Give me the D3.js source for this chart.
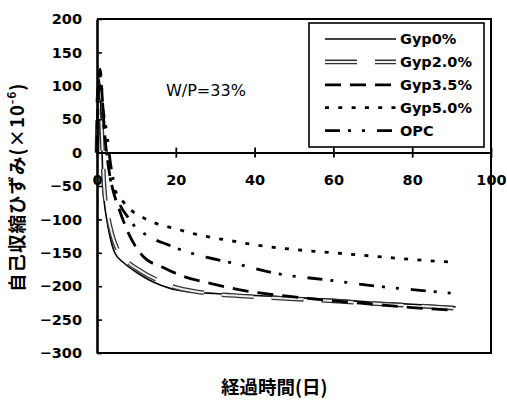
<!DOCTYPE html>
<html>
<head>
<meta charset="utf-8">
<script src="https://cdn.jsdelivr.net/npm/d3@7"></script>
<style>
  html, body { margin: 0; padding: 0; background: #fff; }
  svg { display: block; }
  .num { font-family: "DejaVu Sans", sans-serif; font-weight: bold; font-size: 14.5px; fill: #000; }
  .jp { font-family: "Noto Sans CJK JP", sans-serif; font-weight: bold; font-size: 18.5px; fill: #000; }
</style>
</head>
<body>
<svg id="chart" width="507" height="401"></svg>
<script>
// Autogenous shrinkage (×10^-6) against elapsed days, per gypsum dosage
const seriesNames = ["Gyp0%", "Gyp2.0%", "Gyp3.5%", "Gyp5.0%", "OPC"];

const daysGyp0 = [0, 0.3, 0.6, 1.0, 1.6, 2.5, 3.3, 4.6, 7, 10.5, 14, 19, 25, 30, 35, 40, 50, 60, 70, 80, 91];
const strainGyp0 = [0, 95, 110, 60, -56, -101, -126, -151, -166, -181, -193, -204, -209, -211, -213, -214, -217, -220, -224, -227, -231];

const daysGyp20 = [0, 0.3, 0.6, 1.1, 1.8, 2.8, 3.8, 5.2, 7.5, 11, 15, 20, 25, 30, 35, 40, 50, 60, 70, 80, 91];
const strainGyp20 = [0, 85, 100, 50, -50, -95, -122, -145, -162, -177, -190, -202, -208, -212, -214, -216, -219, -222, -226, -229, -233];

const daysGyp35 = [0, 0.4, 0.8, 1.3, 2, 3, 4, 5.4, 8, 11.8, 16.4, 22.3, 29, 35, 40, 45, 50, 60, 70, 80, 91];
const strainGyp35 = [0, 105, 125, 85, 25, -25, -55, -81, -121, -156, -171, -186, -196, -204, -209, -213, -216, -222, -227, -232, -236];

const daysGyp50 = [0, 0.4, 0.9, 1.5, 2.2, 3, 3.7, 5, 6.3, 8, 11.3, 15, 20, 25, 30, 35, 40, 50, 60, 70, 80, 90];
const strainGyp50 = [0, 90, 100, 55, 12, -25, -48, -62, -71, -83, -96, -106, -114, -122, -128, -133, -138, -145, -150, -155, -160, -164];

const daysOPC = [0, 0.4, 0.9, 1.5, 2.5, 3.3, 5, 8, 14, 18, 21.5, 28, 35, 45.6, 59, 72.7, 80, 91];
const strainOPC = [0, 95, 115, 68, 29, -11, -63, -98, -128, -138, -146, -157, -166, -181, -191, -201, -205, -211];

const xTicks = [0, 20, 40, 60, 80, 100];
const yTicks = [200, 150, 100, 50, 0, -50, -100, -150, -200, -250, -300];

const svg = d3.select("#chart");
const plotLeft = 97, plotRight = 491, plotTop = 19, plotBottom = 353;

const x = d3.scaleLinear().domain([0, 100]).range([plotLeft, plotRight]);
const y = d3.scaleLinear().domain([-300, 200]).range([plotBottom, plotTop]);

// Series geometry and stroke styles
const series = [
  { name: seriesNames[0], days: daysGyp0, vals: strainGyp0, styles: [{ stroke: "#000", width: 1.6, dash: null }] },
  { name: seriesNames[1], days: daysGyp20, vals: strainGyp20, styles: [
      { stroke: "#333", width: 4.6, dash: "32,18" },
      { stroke: "#eeeeee", width: 2.0, dash: "32,18" }] },
  { name: seriesNames[2], days: daysGyp35, vals: strainGyp35, styles: [{ stroke: "#000", width: 2.8, dash: "16,9" }] },
  { name: seriesNames[3], days: daysGyp50, vals: strainGyp50, styles: [{ stroke: "#000", width: 2.8, dash: "4,9.3" }] },
  { name: seriesNames[4], days: daysOPC, vals: strainOPC, styles: [{ stroke: "#000", width: 2.8, dash: "15,8,3,11,3,12" }] }
];

const line = d3.line()
  .x(d => x(d[0]))
  .y(d => y(d[1]))
  .curve(d3.curveMonotoneX);

const plot = svg.append("g");
series.forEach(s => {
  const pts = s.days.map((d, i) => [d, s.vals[i]]);
  s.styles.forEach(st => {
    plot.append("path")
      .attr("d", line(pts))
      .attr("fill", "none")
      .attr("stroke", st.stroke)
      .attr("stroke-width", st.width)
      .attr("stroke-dasharray", st.dash)
      .attr("stroke-linejoin", "round");
  });
});

// Frame: top, right and bottom borders
svg.append("path")
  .attr("d", `M${plotLeft},${plotTop}H${plotRight}V${plotBottom}H${plotLeft}`)
  .attr("fill", "none")
  .attr("stroke", "#000")
  .attr("stroke-width", 2);

// Y axis with inward ticks
const yAxis = d3.axisLeft(y).tickValues(yTicks).tickSizeInner(-5).tickSizeOuter(0).tickPadding(15);
const yg = svg.append("g").attr("transform", `translate(${plotLeft},0)`).call(yAxis);
yg.select(".domain").attr("stroke-width", 2.6);
yg.selectAll(".tick line").attr("stroke-width", 1.6);
yg.selectAll("text").attr("class", "num").attr("font-family", null).attr("font-size", null);

// X axis along zero strain, ticks crossing the line
const xAxis = d3.axisBottom(x).tickValues(xTicks).tickSizeInner(4).tickSizeOuter(0).tickPadding(18);
const xg = svg.append("g").attr("transform", `translate(0,${y(0)})`).call(xAxis);
xg.select(".domain").attr("stroke-width", 2);
xg.selectAll(".tick line").attr("y1", -5).attr("y2", 5).attr("stroke-width", 1.8);
xg.selectAll("text").attr("class", "num").attr("font-family", null).attr("font-size", null);

// Mix annotation
svg.append("text")
  .attr("x", 166).attr("y", 96)
  .attr("font-family", "DejaVu Sans, sans-serif")
  .attr("font-size", 16)
  .text("W/P=33%");

// Legend
const lg = svg.append("g");
lg.append("rect")
  .attr("x", 309).attr("y", 23).attr("width", 175).attr("height", 124)
  .attr("fill", "#fff").attr("stroke", "#000").attr("stroke-width", 1.6);
series.forEach((s, i) => {
  const cy = 39 + i * 22.9;
  s.styles.forEach(st => {
    lg.append("line")
      .attr("x1", 325).attr("x2", 396).attr("y1", cy).attr("y2", cy)
      .attr("stroke", st.stroke)
      .attr("stroke-width", st.width)
      .attr("stroke-dasharray", st.dash);
  });
  lg.append("text")
    .attr("class", "num")
    .attr("x", 400).attr("y", cy).attr("dy", "0.36em")
    .text(s.name);
});

// Axis titles
svg.append("text")
  .attr("class", "jp")
  .attr("x", 221).attr("y", 394)
  .text("経過時間(日)");

const yt = svg.append("text")
  .attr("class", "jp")
  .attr("letter-spacing", 1)
  .attr("transform", "translate(24,292) rotate(-90)");
yt.append("tspan").text("自己収縮ひずみ(×10");
yt.append("tspan").attr("font-size", 12).attr("dy", -8).text("-6");
yt.append("tspan").attr("dy", 8).text(")");
</script>
</body>
</html>
